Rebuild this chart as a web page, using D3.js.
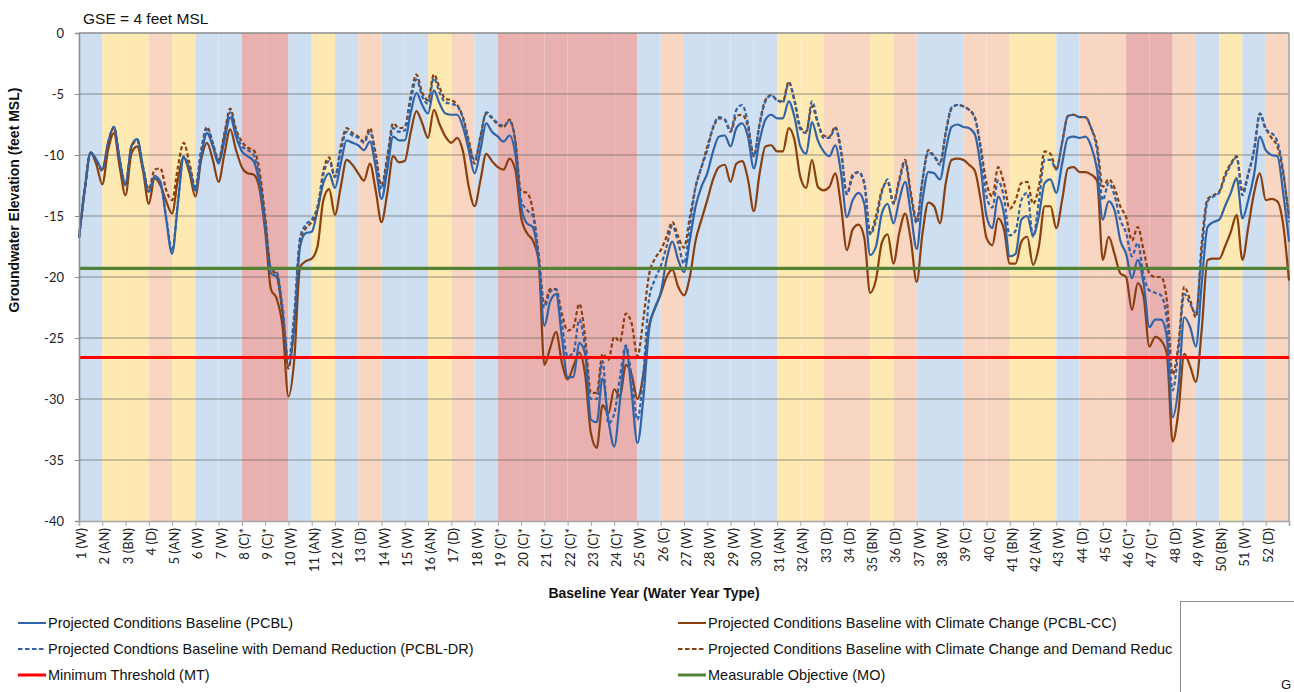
<!DOCTYPE html>
<html><head><meta charset="utf-8">
<script src="https://cdn.jsdelivr.net/npm/d3@7/dist/d3.min.js"></script>
<style>
body{margin:0;background:#fff;}
svg{display:block;font-family:"Liberation Sans",Arial,sans-serif;}
</style>
</head><body>
<svg id="chart" width="1294" height="692"></svg>
<script>
// ---------------- DATA ----------------
const yearLabels = ["1 (W)","2 (AN)","3 (BN)","4 (D)","5 (AN)","6 (W)","7 (W)","8 (C)*","9 (C)*","10 (W)",
"11 (AN)","12 (W)","13 (D)","14 (W)","15 (W)","16 (AN)","17 (D)","18 (W)","19 (C)*","20 (C)*",
"21 (C)*","22 (C)*","23 (C)*","24 (C)*","25 (W)","26 (C)","27 (W)","28 (W)","29 (W)","30 (W)",
"31 (AN)","32 (AN)","33 (D)","34 (D)","35 (BN)","36 (D)","37 (W)","38 (W)","39 (C)","40 (C)",
"41 (BN)","42 (AN)","43 (W)","44 (D)","45 (C)","46 (C)*","47 (C)*","48 (D)","49 (W)","50 (BN)",
"51 (W)","52 (D)"];
const yearTypes = ["W","AN","BN","D","AN","W","W","C*","C*","W","AN","W","D","W","W","AN","D","W","C*","C*",
"C*","C*","C*","C*","W","C","W","W","W","W","AN","AN","D","D","BN","D","W","W","C","C",
"BN","AN","W","D","C","C*","C*","D","W","BN","W","D"];
const yTicks = [0,-5,-10,-15,-20,-25,-30,-35,-40];
const stepsPerYear = 4; // quarterly readings, value 0 = start of year 1

const pcbl = [-16.8,
-12.8,-9.8,-10.4,-11.2, -9.0,-7.7,-10.4,-12.4, -9.3,-8.7,-11.0,-13.0, -11.7,-12.2,-15.3,-18.1, -14.0,-10.2,-11.2,-12.9,
-10.1,-8.2,-9.3,-10.7, -8.8,-6.9,-8.5,-9.7, -10.1,-10.5,-12.3,-15.9, -19.7,-20.0,-23.0,-27.3, -24.1,-17.5,-16.4,-16.3,
-14.5,-12.3,-11.5,-12.7, -10.7,-8.8,-9.0,-9.2, -9.6,-8.9,-11.0,-13.6, -11.2,-8.5,-8.8,-8.8, -6.6,-4.9,-5.9,-6.6,
-4.7,-5.8,-6.6,-6.7, -6.7,-7.7,-9.6,-11.5, -9.6,-7.4,-8.1,-8.5, -8.9,-8.4,-9.9,-14.2, -15.6,-15.9,-18.6,-24.0,
-22.0,-21.4,-24.9,-28.2, -28.2,-25.4,-26.3,-31.7, -31.9,-28.3,-31.7,-33.9, -30.1,-25.7,-29.5,-33.6, -30.0,-24.3,-22.5,-21.3,
-18.6,-17.1,-18.6,-19.6, -17.0,-14.2,-12.6,-11.5, -9.7,-8.5,-8.4,-9.3, -7.8,-7.4,-8.5,-11.1, -8.8,-7.1,-6.7,-7.0,
-7.0,-5.6,-6.9,-9.3, -9.9,-7.3,-8.8,-9.7, -10.1,-9.2,-11.5,-15.1, -13.7,-13.1,-14.0,-18.2, -17.5,-14.8,-14.0,-15.6,
-13.7,-12.2,-14.8,-17.7, -13.7,-11.4,-11.5,-12.0, -9.6,-7.7,-7.5,-7.7, -7.8,-8.3,-11.0,-15.0, -16.0,-13.4,-14.8,-18.3,
-18.1,-15.3,-15.0,-16.6, -15.0,-12.3,-12.0,-13.1, -10.7,-8.6,-8.5,-8.6, -8.5,-9.3,-11.2,-15.3, -13.8,-14.5,-17.0,-18.1,
-20.1,-18.6,-20.5,-24.1, -23.5,-23.5,-24.9,-31.5, -29.0,-23.3,-24.1,-25.7, -20.5,-15.9,-15.5,-15.3, -14.2,-13.1,-11.9,-15.2,
-13.7,-11.6,-8.5,-9.6, -10.0,-10.1,-13.1,-17.1];

const pcblDR = [-16.8,
-12.8,-9.8,-10.4,-11.2, -9.0,-7.7,-10.4,-12.4, -9.3,-8.7,-11.0,-13.0, -11.8,-12.4,-15.1,-17.9, -13.8,-10.1,-11.1,-12.8,
-9.8,-7.9,-9.1,-10.5, -8.4,-6.5,-8.1,-9.3, -9.6,-10.0,-11.8,-15.4, -19.3,-19.6,-22.5,-26.8, -23.0,-16.8,-15.7,-15.3,
-14.2,-11.6,-10.5,-11.8, -9.7,-8.1,-8.4,-8.6, -9.0,-8.1,-10.2,-12.8, -10.5,-7.8,-8.1,-8.0, -5.6,-3.8,-5.2,-5.8,
-3.7,-4.9,-5.7,-5.8, -6.0,-7.0,-9.0,-10.4, -8.6,-6.5,-6.9,-7.4, -7.6,-7.2,-8.9,-13.7, -14.5,-15.0,-18.3,-22.5,
-21.2,-21.0,-23.8,-26.5, -26.2,-23.5,-25.8,-30.0, -30.0,-26.9,-32.0,-31.2, -28.2,-25.6,-28.2,-31.7, -28.0,-21.8,-20.2,-19.1,
-17.5,-15.8,-17.2,-18.9, -15.9,-12.6,-11.0,-9.6, -7.7,-6.9,-7.1,-8.0, -6.3,-5.9,-7.4,-10.1, -7.5,-5.6,-5.1,-5.5,
-5.7,-4.1,-5.6,-7.9, -8.2,-5.6,-7.3,-8.6, -8.6,-7.8,-9.8,-13.2, -11.8,-11.4,-12.4,-16.5, -15.4,-13.1,-12.0,-14.0,
-12.2,-10.6,-13.4,-15.6, -12.1,-9.8,-10.1,-10.8, -8.1,-6.1,-5.9,-6.0, -6.3,-7.0,-9.6,-13.4, -14.3,-12.1,-13.5,-16.6,
-16.2,-13.7,-13.1,-16.7, -13.8,-10.4,-10.4,-11.2, -9.0,-6.8,-6.7,-6.9, -6.9,-7.8,-9.6,-13.7, -12.3,-13.3,-15.3,-16.4,
-18.3,-17.2,-19.9,-21.1, -21.3,-21.5,-23.5,-29.3, -26.0,-21.4,-22.2,-23.0, -18.0,-13.8,-13.4,-13.1, -11.8,-10.8,-10.2,-13.3,
-11.6,-9.6,-6.6,-7.9, -8.2,-8.9,-11.3,-15.5];

const pcblCC = [-16.8,
-12.8,-9.8,-10.8,-12.4, -9.6,-8.2,-11.0,-13.3, -9.9,-9.3,-11.3,-14.0, -11.9,-12.5,-13.8,-14.8, -12.0,-10.2,-11.5,-13.4,
-10.4,-9.0,-10.4,-12.2, -9.9,-7.9,-9.6,-11.0, -11.5,-11.6,-12.7,-16.2, -21.0,-21.8,-24.1,-29.8, -26.8,-19.2,-18.7,-18.5,
-17.5,-13.7,-12.8,-14.9, -12.6,-10.4,-10.8,-11.5, -12.1,-10.7,-12.9,-15.5, -13.1,-10.1,-10.6,-10.5, -8.2,-6.4,-7.4,-8.6,
-6.3,-7.5,-8.5,-9.0, -8.6,-9.7,-12.6,-14.2, -12.1,-9.9,-10.5,-11.0, -11.2,-10.3,-11.2,-15.1, -16.4,-17.0,-18.6,-27.2,
-25.8,-24.5,-27.0,-28.4, -27.3,-26.2,-28.0,-32.8, -34.0,-30.5,-31.2,-29.2, -29.8,-27.2,-28.0,-30.0, -28.0,-24.0,-22.6,-21.4,
-20.0,-19.4,-20.8,-21.5, -20.0,-17.0,-15.3,-13.7, -12.0,-11.0,-10.8,-12.2, -10.7,-10.5,-12.0,-14.6, -11.5,-9.3,-9.2,-9.7,
-9.7,-7.8,-8.8,-11.8, -12.7,-10.4,-12.6,-12.9, -12.6,-11.5,-14.2,-17.8, -16.1,-15.7,-16.8,-21.3, -20.2,-17.2,-16.5,-18.9,
-16.4,-14.8,-17.0,-20.4, -16.4,-13.9,-14.2,-15.6, -12.3,-10.4,-10.3,-10.4, -10.8,-11.3,-13.7,-16.8, -17.4,-15.2,-16.1,-18.9,
-18.9,-17.1,-16.7,-19.0, -17.5,-14.2,-14.2,-16.0, -13.7,-11.1,-11.0,-11.4, -11.4,-11.6,-12.1,-18.6, -16.7,-18.1,-19.7,-20.0,
-22.7,-20.5,-21.6,-25.7, -24.9,-25.2,-26.3,-33.5, -31.0,-26.3,-27.3,-28.6, -24.3,-18.6,-18.5,-18.5, -17.5,-16.3,-14.9,-18.6,
-15.9,-13.1,-11.5,-13.7, -13.6,-13.8,-15.7,-20.3];

const pcblCCDR = [-16.8,
-12.8,-9.8,-10.5,-11.3, -9.1,-7.8,-10.5,-12.5, -9.4,-8.8,-11.0,-12.8, -11.2,-11.1,-12.9,-13.7, -11.0,-9.0,-10.7,-12.6,
-9.6,-7.7,-9.0,-10.4, -8.2,-6.2,-7.9,-8.9, -9.4,-9.6,-11.2,-15.0, -19.4,-19.8,-23.0,-27.5, -23.5,-17.0,-16.0,-15.5,
-14.5,-11.3,-10.2,-11.8, -9.3,-7.8,-8.2,-8.5, -8.9,-7.8,-9.9,-12.5, -10.1,-7.4,-7.8,-7.7, -5.2,-3.4,-4.9,-5.5,
-3.4,-4.5,-5.4,-5.5, -5.9,-6.9,-8.8,-10.7, -8.5,-6.6,-7.0,-7.5, -7.7,-7.1,-8.8,-13.0, -13.1,-14.5,-18.1,-22.2,
-21.0,-21.0,-23.0,-24.4, -24.1,-22.2,-24.9,-29.5, -29.5,-26.3,-26.8,-24.9, -25.3,-23.0,-23.8,-26.5, -23.5,-19.8,-18.5,-17.8,
-16.7,-15.5,-16.7,-17.6, -15.1,-12.6,-11.0,-9.3, -7.8,-7.0,-7.1,-8.1, -6.8,-6.7,-7.7,-10.1, -7.4,-5.5,-5.1,-5.5,
-5.6,-4.0,-5.5,-7.7, -8.1,-6.0,-7.4,-8.4, -8.5,-7.7,-9.6,-13.2, -11.6,-11.4,-12.3,-16.4, -15.0,-12.9,-12.2,-13.9,
-12.0,-10.4,-13.1,-15.3, -12.0,-9.6,-10.1,-10.6, -8.2,-6.2,-5.9,-6.0, -6.3,-6.9,-9.3,-12.3, -13.4,-11.0,-12.3,-14.4,
-13.7,-12.3,-12.2,-14.0, -12.6,-9.7,-9.9,-11.2, -9.0,-6.8,-6.7,-6.9, -6.9,-7.8,-9.2,-12.6, -12.0,-12.7,-14.2,-15.1,
-17.0,-15.9,-17.8,-19.7, -20.0,-20.0,-21.9,-28.0, -25.5,-20.8,-21.9,-23.3, -17.2,-13.6,-13.3,-13.0, -11.6,-10.7,-10.1,-13.0,
-11.5,-9.6,-6.6,-7.8, -8.6,-9.3,-11.5,-15.1];

const minimumThreshold = -26.6;
const measurableObjective = -19.3;

// ---------------- STYLE ----------------
const bandColor = {W:"#cddff0", AN:"#fee9b2", BN:"#fee9b2", D:"#f9d6c1", C:"#f9d6c1", "C*":"#e9b0b0"};
const blue = "#3163a9", brown = "#8a3f0f";
const tickFont = "Lato, 'Liberation Sans', sans-serif";

const svg = d3.select("#chart");
const plot = {left:79, right:1289, top:33, bottom:521};
const x = d3.scaleLinear().domain([0, yearTypes.length]).range([plot.left, plot.right]);
const y = d3.scaleLinear().domain([-40, 0]).range([plot.bottom, plot.top]);

// background bands
svg.append("g").selectAll("rect").data(yearTypes).join("rect")
  .attr("x", (d,i) => x(i)).attr("width", (d,i) => x(i+1) - x(i))
  .attr("y", plot.top).attr("height", plot.bottom - plot.top)
  .attr("fill", d => bandColor[d]);

// gridlines
svg.append("g").selectAll("line").data(yTicks.filter(v => v > -40 && v < 0)).join("line")
  .attr("x1", plot.left).attr("x2", plot.right)
  .attr("y1", d => y(d)).attr("y2", d => y(d))
  .attr("stroke", "#5a5a5a").attr("stroke-opacity", 0.42).attr("stroke-width", 1.6);

// border top/right
svg.append("line").attr("x1", plot.left).attr("x2", plot.right).attr("y1", plot.top).attr("y2", plot.top)
  .attr("stroke", "#8c8c8c").attr("stroke-width", 1.6);
svg.append("line").attr("x1", plot.right).attr("x2", plot.right).attr("y1", plot.top).attr("y2", plot.bottom)
  .attr("stroke", "#a6a6a6").attr("stroke-width", 1.6);

// series
const series = [
  {name:"PCBL-CC", values:pcblCC, color:brown, dash:null},
  {name:"PCBL", values:pcbl, color:blue, dash:null},
  {name:"PCBL-CC-DR", values:pcblCCDR, color:brown, dash:"4,2.5"},
  {name:"PCBL-DR", values:pcblDR, color:blue, dash:"4,2.5"}
];
const line = d3.line()
  .x((d,i) => x(i / stepsPerYear))
  .y(d => y(d))
  .curve(d3.curveMonotoneX);
svg.append("g").selectAll("path").data(series).join("path")
  .attr("d", s => line(s.values))
  .attr("fill", "none")
  .attr("stroke", s => s.color)
  .attr("stroke-width", 2.2)
  .attr("stroke-dasharray", s => s.dash)
  .attr("stroke-linejoin", "round");

// threshold lines
svg.append("line").attr("x1", plot.left).attr("x2", plot.right)
  .attr("y1", y(minimumThreshold)).attr("y2", y(minimumThreshold))
  .attr("stroke", "#ff0000").attr("stroke-width", 3.2);
svg.append("line").attr("x1", plot.left).attr("x2", plot.right)
  .attr("y1", y(measurableObjective)).attr("y2", y(measurableObjective))
  .attr("stroke", "#548235").attr("stroke-width", 3.2);

// axes
const yAxis = d3.axisLeft(y).tickValues(yTicks).tickSize(4).tickPadding(11).tickFormat(d => String(d));
const gy = svg.append("g").attr("transform", `translate(${plot.left},0)`).call(yAxis);
gy.select(".domain").attr("stroke", "#8c8c8c").attr("stroke-width", 1.6);
gy.selectAll(".tick line").attr("stroke", "#8c8c8c");
gy.selectAll("text").attr("font-size", 13).attr("fill", "#222").attr("font-family", tickFont);

const xAxis = d3.axisBottom(x).tickValues(d3.range(0, yearTypes.length + 1)).tickSize(5)
  .tickFormat(i => yearLabels[i] || "");
const gx = svg.append("g").attr("transform", `translate(0,${plot.bottom})`).call(xAxis);
gx.select(".domain").attr("stroke", "#a6a6a6").attr("stroke-width", 1.6);
gx.selectAll(".tick line").attr("stroke", "#a6a6a6");
gx.selectAll("text")
  .attr("transform", "rotate(-90)")
  .attr("x", -7).attr("y", 0).attr("dy", "0.5em")
  .style("text-anchor", "end")
  .attr("font-size", 13).attr("fill", "#222").attr("font-family", tickFont);

// titles
svg.append("text").attr("x", 83).attr("y", 24).attr("font-size", 15.5).attr("fill", "#111")
  .text("GSE = 4 feet MSL");
svg.append("text").attr("transform", "translate(19,200) rotate(-90)")
  .attr("text-anchor", "middle").attr("font-weight", "bold").attr("font-size", 14).attr("fill", "#111")
  .text("Groundwater Elevation (feet MSL)");
svg.append("text").attr("x", 654).attr("y", 598)
  .attr("text-anchor", "middle").attr("font-weight", "bold").attr("font-size", 14).attr("fill", "#111")
  .text("Baseline Year (Water Year Type)");

// legend (the second right-hand label is shown as far as the reference shows it, up to the box)
const legendItems = [
  {label:"Projected Conditions Baseline (PCBL)", color:blue, dash:null, w:2, col:0, row:0},
  {label:"Projected Condtions Baseline with Demand Reduction (PCBL-DR)", color:blue, dash:"4.5,2.5", w:2, col:0, row:1},
  {label:"Minimum Threshold (MT)", color:"#ff0000", dash:null, w:3, col:0, row:2},
  {label:"Projected Conditions Baseline with Climate Change (PCBL-CC)", color:brown, dash:null, w:2, col:1, row:0},
  {label:"Projected Conditions Baseline with Climate Change and Demand Reduc", color:brown, dash:"4.5,2.5", w:2, col:1, row:1},
  {label:"Measurable Objective (MO)", color:"#548235", dash:null, w:3, col:1, row:2}
];
const colX = [18, 678];
const leg = svg.append("g").selectAll("g").data(legendItems).join("g")
  .attr("transform", d => `translate(${colX[d.col]},${623 + d.row * 26})`);
leg.append("line").attr("x1", 0).attr("x2", 28).attr("y1", 0).attr("y2", 0)
  .attr("stroke", d => d.color).attr("stroke-width", d => d.w).attr("stroke-dasharray", d => d.dash);
leg.append("text").attr("x", 30).attr("y", 0).attr("dy", "0.35em")
  .attr("font-size", 14.5).attr("fill", "#111").text(d => d.label);

// overlapping white box at bottom right
svg.append("rect").attr("x", 1180.5).attr("y", 601.5).attr("width", 130).attr("height", 110)
  .attr("fill", "#fff").attr("stroke", "#8c8c8c").attr("stroke-width", 1);
svg.append("text").attr("x", 1281).attr("y", 689).attr("font-size", 13).attr("fill", "#111").text("G");
</script>
</body></html>
